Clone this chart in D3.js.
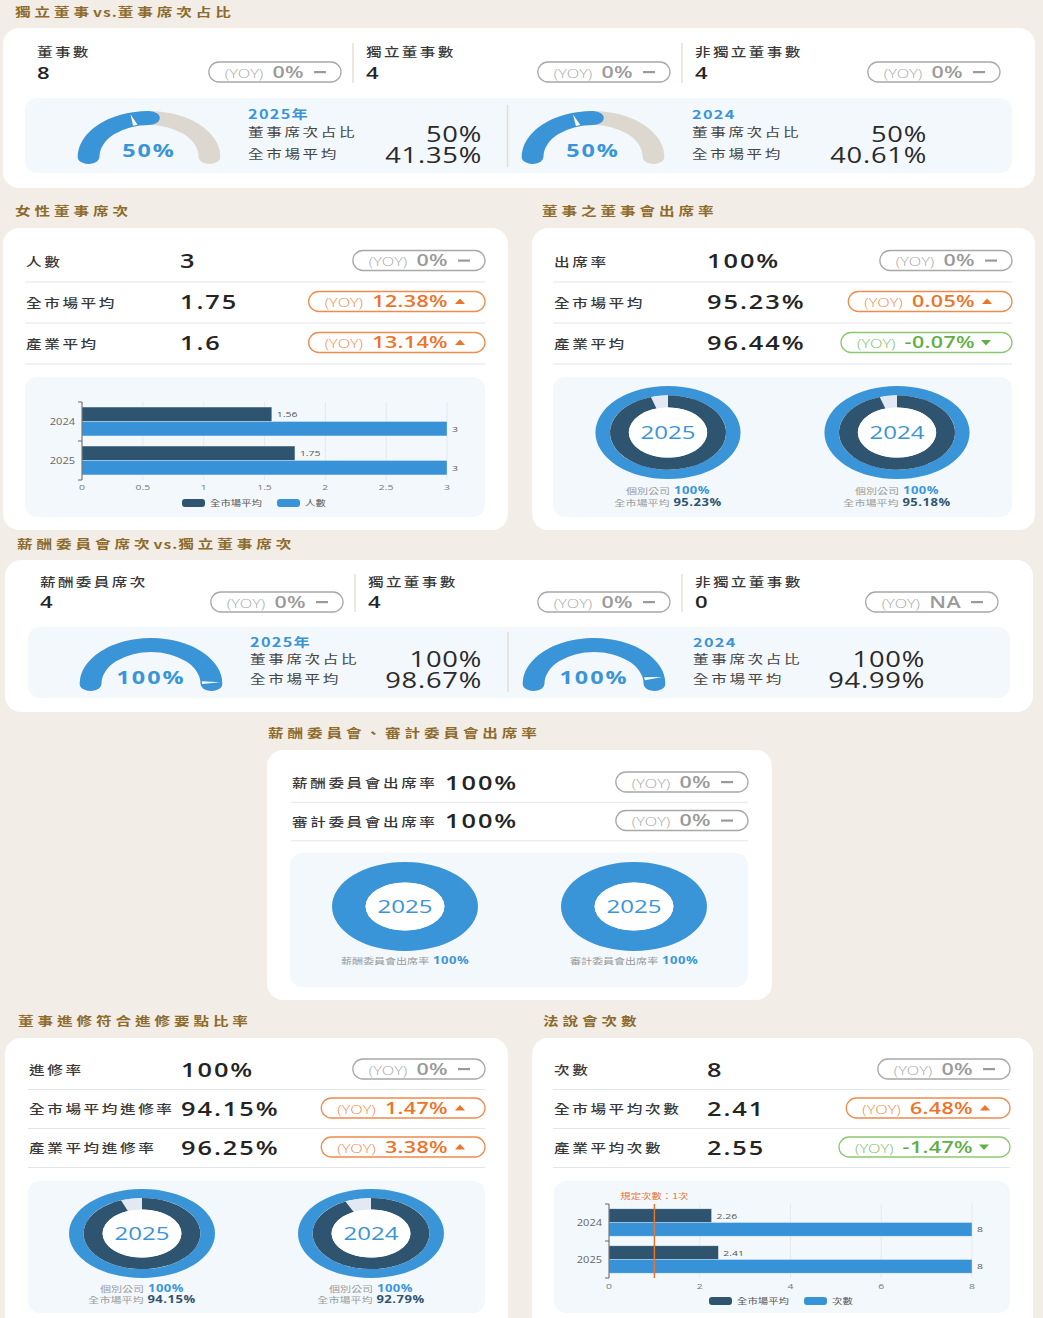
<!DOCTYPE html>
<html><head><meta charset="utf-8">
<script src="https://cdn.jsdelivr.net/npm/d3@7"></script>
<style>
html,body{margin:0;padding:0;background:#f2ede6;}
svg{display:block;}
</style></head>
<body>
<script>
// ---------------- DATA ----------------
const sectionTitles = ['獨立董事vs.董事席次占比','女性董事席次','董事之董事會出席率','薪酬委員會席次vs.獨立董事席次','薪酬委員會、審計委員會出席率','董事進修符合進修要點比率','法說會次數'];

// Section 1: board composition
const boardLabels = ['董事數','獨立董事數','非獨立董事數'];
const boardValues = ['8','4','4'];
const boardYoy = ['0%','0%','0%'];
const boardShareYears = ['2025年','2024'];
const boardShareCompany = [50, 50];
const boardShareMarket = [41.35, 40.61];
const shareRowLabels = ['董事席次占比','全市場平均'];

// Section 2: female directors
const femaleLabels = ['人數','全市場平均','產業平均'];
const femaleValues = ['3','1.75','1.6'];
const femaleYoy = [['0%',0],['12.38%',1],['13.14%',1]];
const femaleYears = ['2024','2025'];
const femaleMarketAvg = [1.56, 1.75];
const femaleCount = [3, 3];
const femaleTicks = [0,0.5,1,1.5,2,2.5,3];
const femaleSeries = ['全市場平均','人數'];

// Section 2b: board meeting attendance
const attendLabels = ['出席率','全市場平均','產業平均'];
const attendValues = ['100%','95.23%','96.44%'];
const attendYoy = [['0%',0],['0.05%',1],['-0.07%',-1]];
const attendYears = ['2025','2024'];
const attendCompany = [100, 100];
const attendMarket = [95.23, 95.18];
const donutCaptionLabels = ['個別公司','全市場平均'];

// Section 3: compensation committee seats
const compLabels = ['薪酬委員席次','獨立董事數','非獨立董事數'];
const compValues = ['4','4','0'];
const compYoy = ['0%','0%','NA'];
const compShareYears = ['2025年','2024'];
const compShareCompany = [100, 100];
const compShareMarket = [98.67, 94.99];

// Section 4: committee attendance
const committeeLabels = ['薪酬委員會出席率','審計委員會出席率'];
const committeeValues = ['100%','100%'];
const committeeYoy = [['0%',0],['0%',0]];
const committeeYears = ['2025','2025'];
const committeeRates = [100, 100];

// Section 5: training
const trainingLabels = ['進修率','全市場平均進修率','產業平均進修率'];
const trainingValues = ['100%','94.15%','96.25%'];
const trainingYoy = [['0%',0],['1.47%',1],['3.38%',1]];
const trainingYears = ['2025','2024'];
const trainingCompany = [100, 100];
const trainingMarket = [94.15, 92.79];

// Section 6: investor conferences
const lawLabels = ['次數','全市場平均次數','產業平均次數'];
const lawValues = ['8','2.41','2.55'];
const lawYoy = [['0%',0],['6.48%',1],['-1.47%',-1]];
const lawYears = ['2024','2025'];
const lawMarketAvg = [2.26, 2.41];
const lawCount = [8, 8];
const lawTicks = [0,2,4,6,8];
const lawSeries = ['全市場平均','次數'];
const lawRequired = 1;
const lawRequiredLabel = '規定次數：1次';

// ---------------- STYLE ----------------
const W=1043,H=1318;
const CJK="'Noto Sans CJK TC','Noto Sans CJK SC','Noto Sans',sans-serif";
const NUM="'Open Sans','Noto Sans',sans-serif";
const TS=1.3;
const C={bg:'#f2ede6',card:'#ffffff',panel:'#f3f8fc',title:'#8d6b2c',blue:'#3a95d8',navy:'#2f5470',
  gaugeBg:'#ddd8cf',light:'#e3e9f2',sep:'#e3e6eb',label:'#383838',val:'#242424'};

const svg=d3.select('body').append('svg').attr('width',W).attr('height',H);
svg.append('rect').attr('width',W).attr('height',H).attr('fill',C.bg);

function T(p,x,y,str,o={}){
  const g=p.append('g').attr('transform',`translate(${x},${y}) scale(${o.ts??TS},1)`);
  return g.append('text').text(str).attr('font-family',o.font||CJK).attr('font-size',o.size||12)
    .attr('font-weight',o.weight||400).attr('fill',o.fill||C.label).attr('text-anchor',o.anchor||'start')
    .attr('letter-spacing',o.ls||0);
}
function box(p,x,y,w,h,r,fill){
  p.append('rect').attr('x',x).attr('y',y).attr('width',w).attr('height',h).attr('rx',r).attr('fill',fill);
}
function title(x,y,s){
  const g=svg.append('g').attr('transform',`translate(${x},${y}) scale(${TS},1)`);
  const t=g.append('text').attr('font-family',CJK).attr('font-size',12).attr('font-weight',700).attr('fill',C.title);
  s.split(/([A-Za-z.]+)/).filter(d=>d.length).forEach(seg=>{
    const latin=/^[A-Za-z.]+$/.test(seg);
    t.append('tspan').text(seg).attr('letter-spacing',latin?0.8:3);
  });
}

function pill(p,right,cy,val,dir){
  const col=dir>0?{s:'#f08b4c',l:'#f08b4c',v:'#ef7327'}:dir<0?{s:'#8cc870',l:'#7cbd5f',v:'#63ae44'}:{s:'#a8a8a8',l:'#a8a8a8',v:'#9a9a9a'};
  const g=p.append('g');
  const r=g.append('rect');
  const tx=right-37;
  const tg=g.append('g').attr('transform',`translate(${tx},${cy+5.5}) scale(${TS},1)`);
  const t=tg.append('text').attr('text-anchor','end').attr('font-family',NUM);
  t.append('tspan').text('(YOY)').attr('font-size',12.5).attr('font-weight',300).attr('fill',col.l);
  t.append('tspan').text(' '+val).attr('font-size',16.5).attr('font-weight',600).attr('fill',col.v).attr('dx',2.5).attr('letter-spacing',0.3);
  const w=t.node().getBBox().width*TS;
  const left=tx-w-16;
  r.attr('x',left).attr('y',cy-10).attr('width',right-left).attr('height',20).attr('rx',10)
    .attr('fill','#fff').attr('stroke',col.s).attr('stroke-width',1.3);
  if(dir===0) g.append('rect').attr('x',right-27).attr('y',cy-1).attr('width',12).attr('height',2.2).attr('fill',col.v);
  else if(dir>0) g.append('path').attr('d',`M${right-30},${cy+2.5}L${right-20},${cy+2.5}L${right-25},${cy-3}Z`).attr('fill',col.v);
  else g.append('path').attr('d',`M${right-31},${cy-2.5}L${right-21},${cy-2.5}L${right-26},${cy+3}Z`).attr('fill',col.v);
}

function statRows(p,o){
  o.labels.forEach((lab,i)=>{
    const cy=o.c0+i*o.step;
    T(p,o.x0,cy+6,lab,{size:12,ls:2,weight:500});
    T(p,o.valX,cy+7.5,o.values[i],{font:NUM,size:19.5,weight:600,ls:1.5,fill:C.val});
    pill(p,o.right,cy,o.yoy[i][0],o.yoy[i][1]);
    const sy=cy+o.step/2+1;
    p.append('line').attr('x1',o.x0-1).attr('x2',o.right).attr('y1',sy).attr('y2',sy).attr('stroke',C.sep).attr('stroke-width',1.2);
  });
}

function countCols(p,o){
  o.labels.forEach((lab,i)=>{
    T(p,o.xs[i],o.yLab,lab,{size:12,ls:1.8,weight:500});
    T(p,o.xs[i],o.yVal,o.values[i],{font:NUM,size:17,weight:600,fill:C.val});
    pill(p,o.rights[i],o.yPill,o.yoy[i],0);
  });
  o.dividers.forEach(x=>p.append('line').attr('x1',x).attr('x2',x).attr('y1',o.divY[0]).attr('y2',o.divY[1])
    .attr('stroke','#e8dfd2').attr('stroke-width',1.5));
}

function gauge(p,cx,cy,value,marker,sx){
  const R=46,r=32,cap=7,d=cap/((R+r)/2);
  const a=d3.scaleLinear().domain([0,100]).range([-Math.PI/2,Math.PI/2]);
  const g=p.append('g').attr('transform',`translate(${cx},${cy}) scale(${sx},1)`);
  const arc=d3.arc().innerRadius(r).outerRadius(R).cornerRadius(cap);
  g.append('path').attr('d',arc({startAngle:a(0)-d,endAngle:a(100)+d})).attr('fill',C.gaugeBg);
  g.append('path').attr('d',arc({startAngle:a(0)-d,endAngle:a(value)+d})).attr('fill',C.blue);
  const th=a(marker);
  const pt=(rad,ang)=>[rad*Math.sin(ang),-rad*Math.cos(ang)];
  const p1=pt(r+1,th-0.045),p2=pt(r+1,th+0.045),p3=pt(R-1.5,th);
  g.append('path').attr('d',`M${p1}L${p2}L${p3}Z`).attr('fill','#fff');
  T(p,cx,cy,value+'%',{font:NUM,size:18,weight:700,fill:C.blue,anchor:'middle',ls:1.5});
}

function shareBlock(p,o){
  T(p,o.x,o.y[0],o.year,{size:12.5,weight:600,fill:C.blue,ls:1});
  T(p,o.x,o.y[1],shareRowLabels[0],{size:12,ls:2,fill:'#444'});
  T(p,o.right,o.y[2],o.company+'%',{font:NUM,size:21,weight:500,anchor:'end',fill:'#2a2a2a',ls:0.6});
  T(p,o.x,o.y[3],shareRowLabels[1],{size:12,ls:2,fill:'#444'});
  T(p,o.right,o.y[4],o.market+'%',{font:NUM,size:21,weight:500,anchor:'end',fill:'#2a2a2a',ls:0.6});
}

function donut(p,cx,cy,R,sx,year,company,market){
  const g=p.append('g').attr('transform',`translate(${cx},${cy}) scale(${sx},1)`);
  const a=d3.scaleLinear().domain([0,100]).range([0,2*Math.PI]);
  const arc=d3.arc();
  if(market==null){
    g.append('path').attr('d',arc({innerRadius:R*0.54,outerRadius:R,startAngle:a(0),endAngle:a(100)})).attr('fill',C.light);
    g.append('path').attr('d',arc({innerRadius:R*0.54,outerRadius:R,startAngle:a(0),endAngle:a(company)})).attr('fill',C.blue);
  } else {
    g.append('path').attr('d',arc({innerRadius:R*0.8,outerRadius:R,startAngle:a(0),endAngle:a(100)})).attr('fill',C.light);
    g.append('path').attr('d',arc({innerRadius:R*0.8,outerRadius:R,startAngle:a(0),endAngle:a(company)})).attr('fill',C.blue);
    g.append('path').attr('d',arc({innerRadius:R*0.54,outerRadius:R*0.8,startAngle:a(0),endAngle:a(100)})).attr('fill',C.light);
    g.append('path').attr('d',arc({innerRadius:R*0.54,outerRadius:R*0.8,startAngle:a(0),endAngle:a(market)})).attr('fill',C.navy);
  }
  g.append('circle').attr('r',R*0.54).attr('fill','#fff');
  T(p,cx,cy+6.5,year,{font:NUM,size:18.5,fill:C.blue,anchor:'middle'});
}

function caption(p,cx,y,label,value,valColor){
  const g=p.append('g').attr('transform',`translate(${cx},${y}) scale(${TS},1)`);
  const t=g.append('text').attr('text-anchor','middle');
  t.append('tspan').text(label).attr('font-family',CJK).attr('font-size',8.5).attr('fill','#9a9a9a');
  t.append('tspan').text(' '+value+'%').attr('font-family',NUM).attr('font-size',10).attr('font-weight',700)
    .attr('fill',valColor).attr('letter-spacing',0.4);
}

function barChart(p,o){
  const x=d3.scaleLinear().domain([0,o.max]).range([o.x0,o.x1]);
  const y=d3.scaleBand().domain(o.years).range([o.y0,o.y1]).paddingInner(0.26).paddingOuter(0.13);
  const ys=d3.scaleBand().domain([0,1]).range([0,y.bandwidth()]);
  o.ticks.forEach(t=>p.append('line').attr('x1',x(t)).attr('x2',x(t)).attr('y1',o.y0).attr('y2',o.y1).attr('stroke','#e4e9f0'));
  const series=[o.market,o.count], colors=[C.navy,'#3892d8'];
  o.years.forEach((yr,i)=>{
    series.forEach((s,k)=>{
      const by=y(yr)+ys(k);
      p.append('rect').attr('x',x(0)).attr('y',by).attr('width',x(s[i])-x(0)).attr('height',ys.bandwidth())
        .attr('fill',colors[k]).attr('stroke','rgba(255,255,255,0.5)').attr('stroke-width',0.6);
      T(p,x(s[i])+5,by+ys.bandwidth()/2+3,String(s[i]),{font:NUM,size:8,fill:'#555'});
    });
    T(p,o.labelX,y(yr)+y.bandwidth()/2+3,yr,{font:NUM,size:8.5,fill:'#666',anchor:'end'});
  });
  // y axis
  p.append('line').attr('x1',o.x0).attr('x2',o.x0).attr('y1',o.y0).attr('y2',o.y1).attr('stroke','#666');
  d3.range(o.years.length+1).forEach(i=>{
    const ty=o.y0+i*(o.y1-o.y0)/o.years.length;
    p.append('line').attr('x1',o.x0-4).attr('x2',o.x0).attr('y1',ty).attr('y2',ty).attr('stroke','#666');
  });
  o.ticks.forEach(t=>T(p,x(t),o.tickY,String(t),{font:NUM,size:8,fill:'#777',anchor:'middle'}));
  // legend
  const lg=[[-73,colors[0]],[22,colors[1]]];
  lg.forEach(([dx,c],k)=>{
    p.append('rect').attr('x',o.legendCx+dx).attr('y',o.legendY-4).attr('width',23).attr('height',8).attr('rx',3).attr('fill',c);
    T(p,o.legendCx+dx+28,o.legendY+3,o.series[k],{size:8,fill:'#555'});
  });
  if(o.mark!=null){
    p.append('line').attr('x1',x(o.mark)).attr('x2',x(o.mark)).attr('y1',o.y0).attr('y2',o.y1).attr('stroke','#e8742f').attr('stroke-width',1.5);
    T(p,x(o.mark),o.y0-5,o.markLabel,{size:8,fill:'#e8742f',anchor:'middle'});
  }
}

// ---------------- SECTION 1 ----------------
title(15,17,sectionTitles[0]);
box(svg,3,28,1032,160,16,C.card);
countCols(svg,{labels:boardLabels,values:boardValues,yoy:boardYoy,xs:[37,366,695],rights:[341,670,1000],
  dividers:[353,682],divY:[43,83],yLab:57,yVal:79,yPill:72});
box(svg,25,98,987,75,12,C.panel);
svg.append('line').attr('x1',507.5).attr('x2',507.5).attr('y1',105).attr('y2',167).attr('stroke','#e3ddd3').attr('stroke-width',1.5);
[[149,248,482],[593,692,927]].forEach(([gx,bx,br],i)=>{
  gauge(svg,gx,157,boardShareCompany[i],boardShareMarket[i],1.55);
  shareBlock(svg,{x:bx,right:br,y:[119,137,141.5,159,163],year:boardShareYears[i],company:boardShareCompany[i],market:boardShareMarket[i]});
});

// ---------------- SECTION 2 ----------------
title(15,216,sectionTitles[1]);
title(542,216,sectionTitles[2]);
box(svg,3,228,505,302,16,C.card);
statRows(svg,{labels:femaleLabels,values:femaleValues,yoy:femaleYoy,x0:26,valX:180,right:485,c0:260.5,step:41});
box(svg,25,377,460,140,12,C.panel);
barChart(svg,{x0:82,x1:447,y0:402,y1:480,max:3,ticks:femaleTicks,years:femaleYears,market:femaleMarketAvg,count:femaleCount,
  series:femaleSeries,labelX:75,tickY:490,legendCx:255,legendY:503});

box(svg,532,228,503,302,16,C.card);
statRows(svg,{labels:attendLabels,values:attendValues,yoy:attendYoy,x0:554,valX:707,right:1012,c0:260.5,step:41});
box(svg,553,377,459,140,12,C.panel);
[668,897].forEach((cx,i)=>{
  donut(svg,cx,432.5,46.5,1.56,attendYears[i],attendCompany[i],attendMarket[i]);
  caption(svg,cx,493.5,donutCaptionLabels[0],attendCompany[i],C.blue);
  caption(svg,cx,505.5,donutCaptionLabels[1],attendMarket[i],C.navy);
});

// ---------------- SECTION 3 ----------------
title(17,549,sectionTitles[3]);
box(svg,5,560,1028,152,16,C.card);
countCols(svg,{labels:compLabels,values:compValues,yoy:compYoy,xs:[40,368,695],rights:[343,670,998],
  dividers:[355,682],divY:[574,612],yLab:587,yVal:608,yPill:602});
box(svg,28,627,982,71,12,C.panel);
svg.append('line').attr('x1',508).attr('x2',508).attr('y1',632).attr('y2',692).attr('stroke','#e3ddd3').attr('stroke-width',1.5);
[[151,250,482],[594,693,925]].forEach(([gx,bx,br],i)=>{
  gauge(svg,gx,684,compShareCompany[i],compShareMarket[i],1.55);
  shareBlock(svg,{x:bx,right:br,y:[647,664,667,684,688],year:compShareYears[i],company:compShareCompany[i],market:compShareMarket[i]});
});

// ---------------- SECTION 4 ----------------
title(268,738,sectionTitles[4]);
box(svg,267,750,505,250,16,C.card);
statRows(svg,{labels:committeeLabels,values:committeeValues,yoy:committeeYoy,x0:292,valX:445,right:748,c0:782,step:38.5});
box(svg,290,853,458,134,12,C.panel);
[405,634].forEach((cx,i)=>{
  donut(svg,cx,906.5,44.5,1.64,committeeYears[i],committeeRates[i],null);
  caption(svg,cx,964,committeeLabels[i],committeeRates[i],C.blue);
});

// ---------------- SECTION 5 ----------------
title(18,1026,sectionTitles[5]);
title(543,1026,sectionTitles[6]);
box(svg,5,1038,503,300,16,C.card);
statRows(svg,{labels:trainingLabels,values:trainingValues,yoy:trainingYoy,x0:29,valX:181,right:485,c0:1069,step:39});
box(svg,28,1181,457,132,12,C.panel);
[142,371].forEach((cx,i)=>{
  donut(svg,cx,1233.5,44.5,1.64,trainingYears[i],trainingCompany[i],trainingMarket[i]);
  caption(svg,cx,1292,donutCaptionLabels[0],trainingCompany[i],C.blue);
  caption(svg,cx,1303,donutCaptionLabels[1],trainingMarket[i],C.navy);
});

box(svg,532,1038,501,300,16,C.card);
statRows(svg,{labels:lawLabels,values:lawValues,yoy:lawYoy,x0:554,valX:707,right:1010,c0:1069,step:39});
box(svg,554,1181,456,132,12,C.panel);
barChart(svg,{x0:609,x1:972,y0:1204,y1:1278,max:8,ticks:lawTicks,years:lawYears,market:lawMarketAvg,count:lawCount,
  series:lawSeries,labelX:602,tickY:1289,legendCx:782,legendY:1301,mark:lawRequired,markLabel:lawRequiredLabel});
</script>
</body></html>
